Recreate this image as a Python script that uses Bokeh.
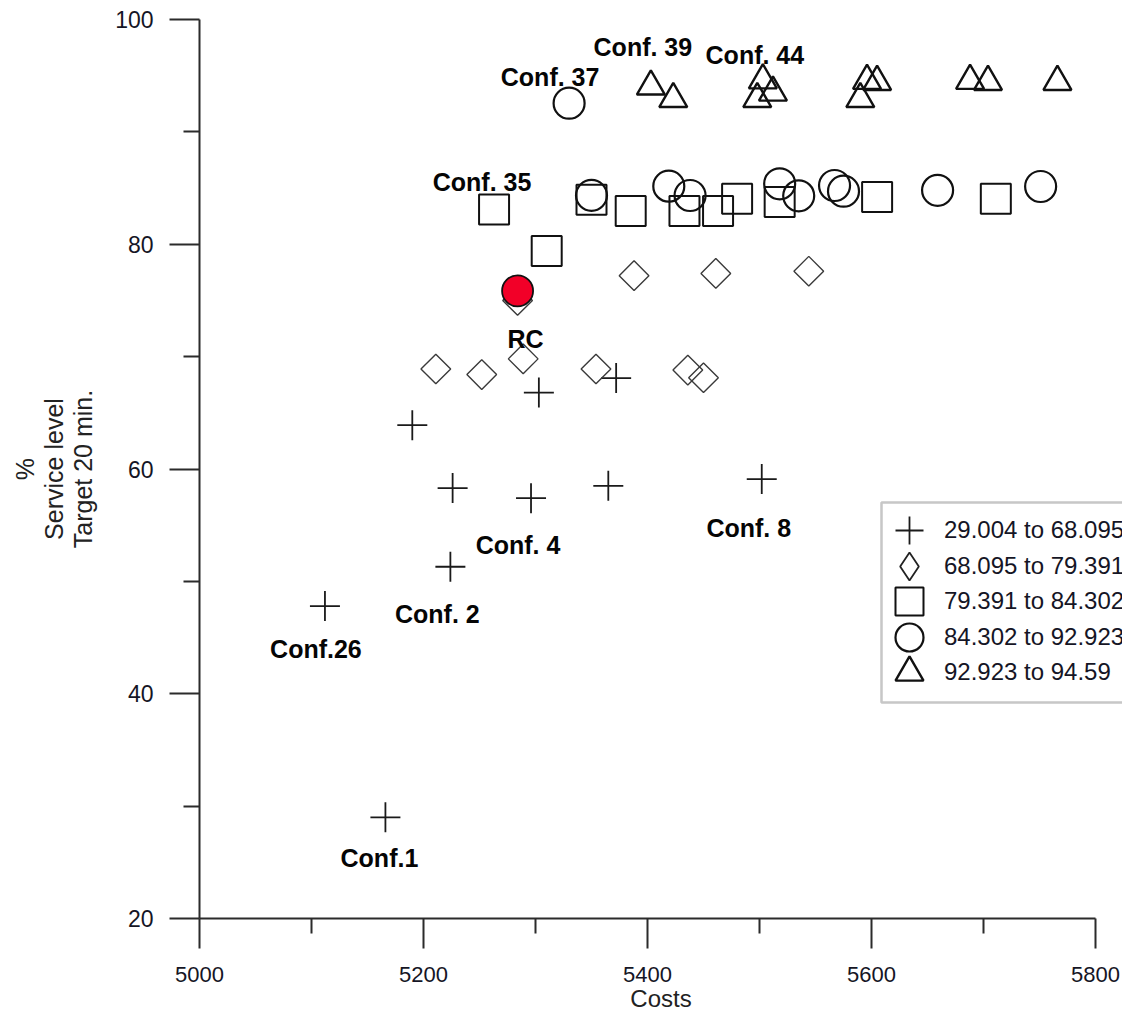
import math
from bokeh.plotting import figure
from bokeh.models import (ColumnDataSource, Legend, LegendItem, FixedTicker, Range1d,
                          BoxAnnotation)
from bokeh.core.properties import value
from bokeh.embed import file_html
from bokeh.resources import INLINE

# ---------------- data ----------------
# series: service level classes (Costs vs % service level, target 20 min.)
cross_x = [5166, 5112, 5224, 5296, 5502, 5190, 5226, 5365, 5303, 5372]
cross_y = [29.004, 47.8, 51.3, 57.4, 59.1, 63.9, 58.3, 58.5, 66.8, 68.09]

diamond_x = [5211, 5252, 5289, 5354, 5436, 5450, 5284, 5388, 5461, 5544]
diamond_y = [68.9, 68.4, 69.8, 68.9, 68.8, 68.12, 75.0, 77.2, 77.4, 77.6]

square_x = [5263, 5310, 5350, 5385, 5433, 5463, 5480, 5518, 5605, 5711]
square_y = [83.1, 79.391, 83.95, 82.95, 82.95, 82.95, 84.05, 83.75, 84.2, 84.05]

circle_x = [5330, 5350, 5419, 5438, 5518, 5535, 5567, 5575, 5659, 5751]
circle_y = [92.55, 84.35, 85.17, 84.34, 85.38, 84.31, 85.23, 84.72, 84.8, 85.14]

triangle_x = [5403, 5423, 5503, 5512, 5498, 5596, 5605, 5590, 5688, 5704, 5766]
triangle_y = [94.04, 92.93, 94.59, 93.5, 92.93, 94.55, 94.45, 92.93, 94.55, 94.45, 94.45]

rc_x = [5284]
rc_y = [75.85]

legend_labels = ["29.004 to 68.095", "68.095 to 79.391", "79.391 to 84.302",
                 "84.302 to 92.923", "92.923 to 94.59"]

x_ticks = [5000, 5200, 5400, 5600, 5800]
x_minor = [5100, 5300, 5500, 5700]
y_ticks = [20, 40, 60, 80, 100]
y_minor = [30, 50, 70, 90]

x_title = "Costs"
y_title = "%\nService level\nTarget 20 min."

# annotated points: (text, x, y)
annotations = [
    ("Conf.1", cross_x[0], cross_y[0]),
    ("Conf.26", cross_x[1], cross_y[1]),
    ("Conf. 2", cross_x[2], cross_y[2]),
    ("Conf. 4", cross_x[3], cross_y[3]),
    ("Conf. 8", cross_x[4], cross_y[4]),
    ("RC", rc_x[0], rc_y[0]),
    ("Conf. 35", square_x[0], square_y[0]),
    ("Conf. 37", circle_x[0], circle_y[0]),
    ("Conf. 39", triangle_x[0], triangle_y[0]),
    ("Conf. 44", triangle_x[2], triangle_y[2]),
]

# ---------------- layout / style ----------------
label_dx = [-6, -9, -13, -13, -13, 8, -12, -19, -8, -8]
label_dy = [41, 43, 47, 47, 49, 48, -27, -26, -39, -25]
FONT = "Liberation Sans"
X_VIEW_END = 5824.1   # frame runs to the right page edge; axis itself stops at 5800

p = figure(width=1122, height=1018, title=None,
           x_range=Range1d(5000, X_VIEW_END), y_range=Range1d(20, 100),
           output_backend="svg", toolbar_location=None,
           min_border_left=199, min_border_right=0,
           min_border_top=19, min_border_bottom=100)
p.outline_line_color = None
p.xgrid.visible = False
p.ygrid.visible = False
p.background_fill_color = "white"
p.border_fill_color = "white"

r_cross = p.scatter(cross_x, cross_y, marker="cross", size=30,
                    line_color="#1a1a1a", line_width=1.8)
p.scatter(diamond_x, diamond_y, marker="square", angle=math.pi / 4, size=21,
          line_color="#3a3a3a", line_width=1.4, fill_color=None)
r_sq = p.scatter(square_x, square_y, marker="square", size=30,
                 line_color="#111", line_width=2, fill_color=None)
r_circ = p.scatter(circle_x, circle_y, marker="circle", size=31,
                   line_color="#111", line_width=2.2, fill_color=None)
r_tri = p.scatter(triangle_x, triangle_y, marker="triangle", size=28,
                  line_color="#111", line_width=2.4, fill_color=None)
p.scatter(rc_x, rc_y, marker="circle", size=31, fill_color="#f20028",
          line_color="#111", line_width=1.8)
# legend key for the diamond class (legend keys ignore marker angle)
r_diam_key = p.scatter([float("nan")], [float("nan")], marker="diamond", size=30,
                       line_color="#222", line_width=1.8, fill_color=None)

lbl_src = ColumnDataSource(dict(
    x=[a[1] for a in annotations], y=[a[2] for a in annotations],
    t=[a[0] for a in annotations], dx=label_dx, dy=label_dy))
p.text(x="x", y="y", text="t", x_offset="dx", y_offset="dy", source=lbl_src,
       text_font=value(FONT), text_font_style="bold", text_font_size="25px",
       text_align="center", text_baseline="alphabetic", text_color="#050505")

# axes
for ax, maj, mnr, mlen in ((p.xaxis[0], x_ticks, x_minor, 15), (p.yaxis[0], y_ticks, y_minor, 16)):
    ax.ticker = FixedTicker(ticks=maj, minor_ticks=mnr)
    ax.axis_line_color = "#2b2b2b"
    ax.axis_line_width = 2
    ax.major_tick_line_color = "#2b2b2b"
    ax.major_tick_line_width = 2
    ax.minor_tick_line_color = "#2b2b2b"
    ax.minor_tick_line_width = 2
    ax.major_tick_out = 30
    ax.major_tick_in = 0
    ax.minor_tick_out = mlen
    ax.minor_tick_in = 0
    ax.major_label_text_font = FONT
    ax.major_label_text_color = "#151525"
    ax.axis_label_text_font = FONT
    ax.axis_label_text_font_style = "normal"
    ax.axis_label_text_color = "#222"

p.xaxis.bounds = (5000, 5800)
p.xaxis.major_label_text_font_size = "22px"
p.xaxis.major_label_standoff = 18
p.xaxis.axis_label = x_title
p.xaxis.axis_label_text_font_size = "24px"
p.xaxis.axis_label_standoff = 0

p.yaxis.major_label_text_font_size = "23px"
p.yaxis.major_label_standoff = 16
p.yaxis.axis_label = y_title
p.yaxis.axis_label_text_font_size = "25px"
p.yaxis.axis_label_text_line_height = 1.04
p.yaxis.axis_label_standoff = 15

# legend box (frame-relative screen px)
p.add_layout(BoxAnnotation(left=682, right=960, bottom=216, top=416,
                           left_units="screen", right_units="screen",
                           bottom_units="screen", top_units="screen",
                           fill_color="white", fill_alpha=1,
                           line_color="#444", line_width=2.5))

# one legend per row so that marker size and row spacing can both match
row_bottom = [353, 317, 282, 246, 211]   # frame-relative bottoms of each row cell
renderers = [r_cross, r_diam_key, r_sq, r_circ, r_tri]
for lab, rend, vb in zip(legend_labels, renderers, row_bottom):
    lg = Legend(items=[LegendItem(label=lab, renderers=[rend])],
                location=(675, vb),
                glyph_width=70, glyph_height=70, padding=0, margin=0,
                label_standoff=0, label_text_font=FONT,
                label_text_font_size="24px", label_text_color="#151525",
                border_line_color=None, background_fill_alpha=0)
    p.add_layout(lg)

open("out.html", "w").write(file_html(p, INLINE))
